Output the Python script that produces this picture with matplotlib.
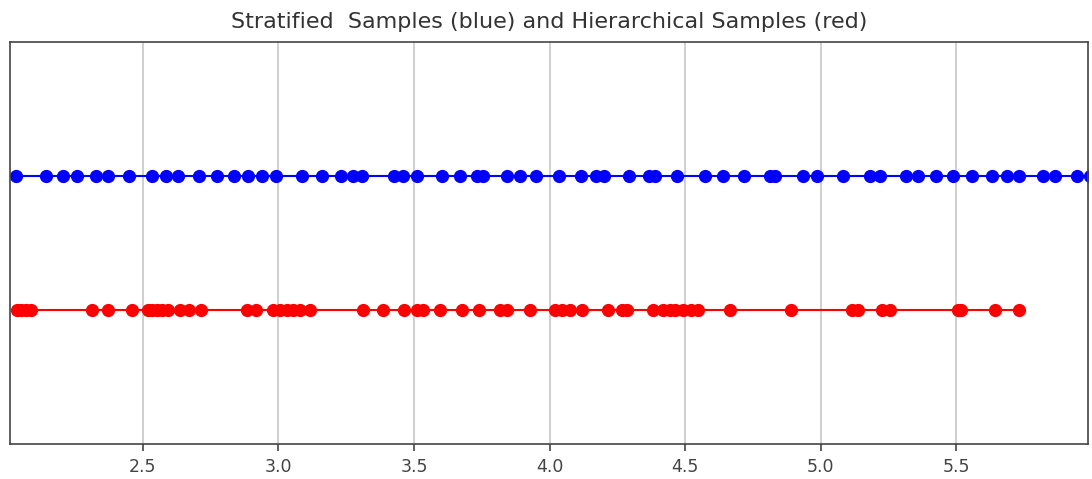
import matplotlib
matplotlib.use("Agg")
import matplotlib.pyplot as plt
import numpy as np

# sample positions
stratified = [2.032, 2.142, 2.204, 2.256, 2.326, 2.371, 2.448, 2.533, 2.585, 2.629,
              2.707, 2.773, 2.836, 2.888, 2.940, 2.991, 3.087, 3.161, 3.231, 3.275,
              3.309, 3.427, 3.460, 3.512, 3.604, 3.671, 3.734, 3.756, 3.844, 3.892,
              3.951, 4.036, 4.117, 4.173, 4.202, 4.294, 4.368, 4.390, 4.471, 4.575,
              4.641, 4.718, 4.814, 4.833, 4.936, 4.988, 5.084, 5.183, 5.220, 5.316,
              5.360, 5.426, 5.489, 5.559, 5.633, 5.688, 5.733, 5.821, 5.865, 5.946,
              5.994]
hierarchical = [2.035, 2.050, 2.069, 2.087, 2.312, 2.371, 2.460, 2.519, 2.533, 2.552,
                2.570, 2.592, 2.637, 2.670, 2.714, 2.884, 2.917, 2.980, 3.005, 3.031,
                3.053, 3.079, 3.116, 3.312, 3.386, 3.463, 3.511, 3.534, 3.596, 3.677,
                3.740, 3.818, 3.844, 3.928, 4.021, 4.047, 4.076, 4.120, 4.216, 4.268,
                4.287, 4.383, 4.420, 4.446, 4.464, 4.494, 4.520, 4.549, 4.664, 4.892,
                5.117, 5.139, 5.228, 5.254, 5.508, 5.519, 5.644, 5.733]

fig = plt.figure(figsize=(10.92, 4.79), dpi=100)
ax = fig.add_axes([10/1092, 1-444/479, 1078/1092, 402/479])

ax.plot(stratified, np.ones(len(stratified)), 'bo-', markersize=8.5, linewidth=1.5)
ax.plot(hierarchical, np.zeros(len(hierarchical)), 'ro-', markersize=8.5, linewidth=1.5)

ax.set_xlim(2.01, 5.986)
ax.set_ylim(-1, 2)
ax.set_yticks([])
ax.set_xticks([2.5, 3.0, 3.5, 4.0, 4.5, 5.0, 5.5])
ax.tick_params(axis='x', labelsize=12.5, colors='#444444', length=5, width=1.2, pad=5)
ax.grid(True, axis='x', color='#cccccc', linewidth=1.3)
ax.set_axisbelow(True)
for s in ax.spines.values():
    s.set_color('#444444')
    s.set_linewidth(1.2)
ax.set_title("Stratified  Samples (blue) and Hierarchical Samples (red)",
             fontsize=16, color='#333333', pad=10)

fig.savefig("out.png", dpi=100)
